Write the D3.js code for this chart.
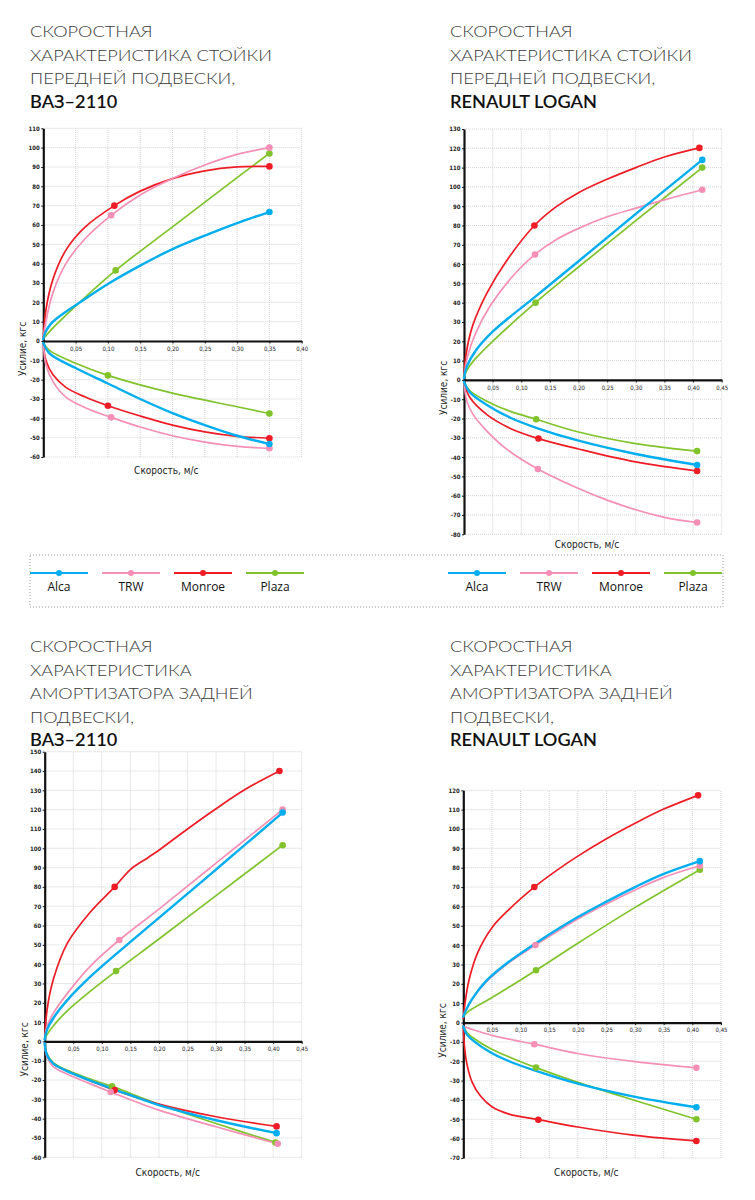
<!DOCTYPE html>
<html><head><meta charset="utf-8">
<script src="https://cdn.jsdelivr.net/npm/d3@7"></script>
<style>body{margin:0;background:#fff}</style>
</head><body>
<svg id="c" width="755" height="1200"></svg>
<script>
// ---------- DATA ----------
const series = ["Alca", "TRW", "Monroe", "Plaza"];
const colors = ["#00aeef", "#f58fb6", "#ee1c25", "#80c32a"];

const xTicks40 = [0.05, 0.10, 0.15, 0.20, 0.25, 0.30, 0.35, 0.40];
const xTicks45 = [0.05, 0.10, 0.15, 0.20, 0.25, 0.30, 0.35, 0.40, 0.45];
const yTicksVazFront = [-60, -50, -40, -30, -20, -10, 0, 10, 20, 30, 40, 50, 60, 70, 80, 90, 100, 110];
const yTicksLoganFront = [-80, -70, -60, -50, -40, -30, -20, -10, 0, 10, 20, 30, 40, 50, 60, 70, 80, 90, 100, 110, 120, 130];
const yTicksVazRear = [-60, -50, -40, -30, -20, -10, 0, 10, 20, 30, 40, 50, 60, 70, 80, 90, 100, 110, 120, 130, 140, 150];
const yTicksLoganRear = [-70, -60, -50, -40, -30, -20, -10, 0, 10, 20, 30, 40, 50, 60, 70, 80, 90, 100, 110, 120];

const titleFront = ["СКОРОСТНАЯ", "ХАРАКТЕРИСТИКА СТОЙКИ", "ПЕРЕДНЕЙ ПОДВЕСКИ,"];
const titleRear = ["СКОРОСТНАЯ", "ХАРАКТЕРИСТИКА", "АМОРТИЗАТОРА ЗАДНЕЙ", "ПОДВЕСКИ,"];
const carVaz = "ВАЗ–2110";
const carLogan = "RENAULT LOGAN";
const xLabel = "Скорость, м/с";
const yLabel = "Усилие, кгс";

// curves: [Alca, TRW, Monroe, Plaza], points [speed m/s, force kgf]
const vazFrontUp = [
  [[0,1],[0.004,5],[0.012,9],[0.026,13],[0.05,18.5],[0.1,29.5],[0.15,39],[0.2,47.5],[0.25,54.5],[0.3,61],[0.35,66.7]],
  [[0,1],[0.004,10],[0.015,25],[0.035,40],[0.065,53],[0.105,65],[0.15,75.5],[0.2,84],[0.25,91],[0.3,96.5],[0.35,100]],
  [[0,1],[0.004,16],[0.015,32],[0.035,47],[0.065,59],[0.11,70],[0.15,77.5],[0.2,84],[0.25,88],[0.3,90],[0.35,90.3]],
  [[0,1],[0.01,5],[0.05,18],[0.112,36.5],[0.2,59],[0.3,84.5],[0.35,97]]
];
const vazFrontLow = [
  [[0,-1],[0.01,-6.5],[0.05,-14],[0.1,-22],[0.15,-30],[0.2,-37.3],[0.25,-43.5],[0.3,-49],[0.35,-53.3]],
  [[0,-1],[0.004,-12],[0.015,-21],[0.035,-29],[0.065,-34.5],[0.105,-39.5],[0.15,-44.5],[0.2,-49],[0.25,-52.3],[0.3,-54.5],[0.35,-55.5]],
  [[0,-1],[0.004,-10],[0.015,-17.5],[0.035,-24],[0.065,-29],[0.1,-33.5],[0.15,-38.8],[0.2,-43.5],[0.25,-47],[0.3,-49.3],[0.35,-50.3]],
  [[0,-1],[0.01,-5],[0.05,-11.5],[0.1,-17.8],[0.2,-27],[0.3,-34],[0.35,-37.5]]
];
const vazFrontUpMarks = [
  [[0.35,66.7]], [[0.105,65],[0.35,100]], [[0.11,70],[0.35,90.3]], [[0.112,36.5],[0.35,97]]
];
const vazFrontLowMarks = [
  [[0.35,-53.3]], [[0.105,-39.5],[0.35,-55.5]], [[0.1,-33.5],[0.35,-50.3]], [[0.1,-17.8],[0.35,-37.5]]
];

const loganFrontUp = [
  [[0,1],[0.005,7],[0.02,15],[0.05,25],[0.124,43],[0.2,61.5],[0.3,86],[0.416,114]],
  [[0,1],[0.006,12],[0.02,24],[0.045,38],[0.08,52],[0.124,65],[0.16,72.5],[0.2,78.5],[0.25,84.5],[0.3,89],[0.35,93.3],[0.416,98.5]],
  [[0,1],[0.004,14],[0.015,28],[0.04,45],[0.075,62],[0.123,80],[0.16,89.5],[0.2,97],[0.25,104],[0.3,110],[0.35,115.5],[0.411,120.2]],
  [[0,1],[0.005,5],[0.02,11],[0.05,20],[0.125,40],[0.2,58.5],[0.3,82.5],[0.416,110]]
];
const loganFrontLow = [
  [[0,-1],[0.01,-6.4],[0.04,-13],[0.08,-19.5],[0.126,-24.8],[0.2,-31.5],[0.3,-38.4],[0.407,-44.1]],
  [[0,-1],[0.005,-11],[0.016,-18],[0.04,-26.5],[0.075,-36],[0.129,-46.2],[0.2,-56.3],[0.25,-62.3],[0.3,-67.3],[0.35,-71.2],[0.407,-73.9]],
  [[0,-1],[0.01,-9],[0.04,-18],[0.08,-25],[0.13,-30.4],[0.2,-35.8],[0.3,-42.5],[0.407,-47.2]],
  [[0,-1],[0.01,-5.5],[0.04,-11],[0.08,-16.2],[0.126,-20.4],[0.2,-27],[0.3,-33],[0.407,-36.9]]
];
const loganFrontUpMarks = [
  [[0.416,114]], [[0.124,65],[0.416,98.5]], [[0.123,80],[0.411,120.2]], [[0.125,40],[0.416,110]]
];
const loganFrontLowMarks = [
  [[0.407,-44.1]], [[0.129,-46.2],[0.407,-73.9]], [[0.13,-30.4],[0.407,-47.2]], [[0.126,-20.4],[0.407,-36.9]]
];

const vazRearUp = [
  [[0,1],[0.004,6],[0.015,12],[0.04,21.5],[0.08,33.5],[0.13,46.5],[0.2,64],[0.3,89],[0.4166,118.5]],
  [[0,1],[0.004,7.6],[0.015,14.5],[0.04,25],[0.08,39],[0.1307,52.5],[0.2,68.5],[0.3,92.3],[0.4166,120]],
  [[0,1],[0.004,16],[0.015,32],[0.04,51],[0.08,67],[0.1225,80],[0.15,89],[0.18,95],[0.2,99],[0.25,110],[0.3,120.5],[0.35,130.3],[0.411,140]],
  [[0,1],[0.004,3.5],[0.015,8],[0.04,16],[0.08,26],[0.125,36.4],[0.2,53],[0.3,75.5],[0.4166,101.6]]
];
const vazRearLow = [
  [[0,-1],[0.004,-7],[0.015,-11.5],[0.04,-15.5],[0.08,-20.3],[0.1225,-24.9],[0.2,-33],[0.3,-40.8],[0.406,-47.5]],
  [[0,-1],[0.004,-8],[0.015,-13],[0.04,-17],[0.08,-22],[0.1155,-26.2],[0.2,-35.6],[0.3,-44.2],[0.408,-53]],
  [[0,-1],[0.004,-7],[0.015,-11.5],[0.04,-15.5],[0.08,-20.5],[0.1225,-25.2],[0.2,-32.5],[0.3,-39],[0.406,-44]],
  [[0,-1],[0.004,-6.5],[0.015,-11],[0.04,-15],[0.08,-19.5],[0.118,-23.3],[0.2,-32.5],[0.3,-42.5],[0.404,-52.3]]
];
const vazRearUpMarks = [
  [[0.4166,118.5]], [[0.1307,52.5],[0.4166,120]], [[0.1225,80],[0.411,140]], [[0.125,36.4],[0.4166,101.6]]
];
const vazRearLowMarks = [
  [[0.406,-47.5]], [[0.1155,-26.2],[0.408,-53]], [[0.1225,-25.2],[0.406,-44]], [[0.118,-23.3],[0.404,-52.3]]
];

const loganRearUp = [
  [[0,3],[0.004,6],[0.015,12],[0.04,21.5],[0.08,31.5],[0.126,40.9],[0.2,54.5],[0.25,62.5],[0.3,70],[0.35,76.8],[0.413,83.4]],
  [[0,3],[0.004,6],[0.015,12],[0.04,21],[0.08,31],[0.126,40],[0.2,53.5],[0.25,61.3],[0.3,68.5],[0.35,75],[0.413,81]],
  [[0,2],[0.003,10],[0.01,22],[0.025,36],[0.05,49],[0.08,58.5],[0.124,70],[0.16,78],[0.2,86],[0.25,95],[0.3,103],[0.35,110.3],[0.41,117.4]],
  [[0,3],[0.01,6],[0.048,12.5],[0.127,27],[0.2,41],[0.3,59.5],[0.413,79]]
];
const loganRearLow = [
  [[0,-2],[0.006,-6],[0.02,-10],[0.048,-15.5],[0.08,-20],[0.127,-25],[0.2,-31.6],[0.3,-38.4],[0.407,-43.8]],
  [[0,-2],[0.02,-4],[0.05,-6.6],[0.09,-9.2],[0.124,-11.2],[0.2,-16],[0.3,-20.2],[0.407,-23.4]],
  [[0,-2],[0.002,-12],[0.006,-21],[0.015,-30.5],[0.03,-38],[0.05,-43.5],[0.08,-47.3],[0.131,-50.2],[0.2,-54],[0.3,-58.3],[0.407,-61.2]],
  [[0,-2],[0.006,-5],[0.02,-8.5],[0.048,-13.5],[0.08,-17.8],[0.127,-23.3],[0.2,-30.9],[0.3,-40.3],[0.407,-50]]
];
const loganRearUpMarks = [
  [[0.413,83.4]], [[0.126,40],[0.413,81]], [[0.124,70],[0.41,117.4]], [[0.127,27],[0.413,79]]
];
const loganRearLowMarks = [
  [[0.407,-43.8]], [[0.124,-11.2],[0.407,-23.4]], [[0.131,-50.2],[0.407,-61.2]], [[0.127,-23.3],[0.407,-50]]
];

// ---------- LAYOUT ----------
const charts = [
  {title: titleFront, car: carVaz, tx: 30, ty: 37, x0: 43.3, x1: 301.7, yTop: 128.3, yBot: 457, xLabY: 473.5,
   xTicks: xTicks40, yTicks: yTicksVazFront, up: vazFrontUp, low: vazFrontLow, upM: vazFrontUpMarks, lowM: vazFrontLowMarks},
  {title: titleFront, car: carLogan, tx: 450, ty: 37, x0: 464, x1: 721.7, yTop: 129, yBot: 534.3, xLabY: 547.5,
   xTicks: xTicks45, yTicks: yTicksLoganFront, up: loganFrontUp, low: loganFrontLow, upM: loganFrontUpMarks, lowM: loganFrontLowMarks},
  {title: titleRear, car: carVaz, tx: 30, ty: 652, x0: 44.7, x1: 301.7, yTop: 751.7, yBot: 1157.3, xLabY: 1175.5,
   xTicks: xTicks45, yTicks: yTicksVazRear, up: vazRearUp, low: vazRearLow, upM: vazRearUpMarks, lowM: vazRearLowMarks},
  {title: titleRear, car: carLogan, tx: 450, ty: 652, x0: 463.3, x1: 721, yTop: 790.3, yBot: 1158, xLabY: 1175.5,
   xTicks: xTicks45, yTicks: yTicksLoganRear, up: loganRearUp, low: loganRearLow, upM: loganRearUpMarks, lowM: loganRearLowMarks}
];

const svg = d3.select("#c");
const narrow = "'Liberation Sans Narrow','DejaVu Sans Condensed',sans-serif";
const titleFont = "Lato, 'Open Sans', sans-serif";
const drawOrder = [3, 2, 1, 0];
const fmtX = d => d3.format(".2f")(d).replace(".", ",");

// horizontal stretch so the title lines match the reference widths
function fitStretch(text, weight, size, target) {
  const t = svg.append("text").attr("font-family", titleFont).attr("font-size", size)
    .attr("font-weight", weight).text(text);
  const w = t.node().getComputedTextLength();
  t.remove();
  return target / w;
}
const lightSX = fitStretch("ХАРАКТЕРИСТИКА СТОЙКИ", 300, 16.5, 242);
const boldSX = fitStretch("RENAULT LOGAN", 600, 16.5, 147);

charts.forEach(cfg => {
  const g = svg.append("g");
  const lines = cfg.title.concat([cfg.car]);
  lines.forEach((t, i) => {
    const last = i === lines.length - 1;
    g.append("text")
      .attr("transform", `translate(${cfg.tx},${cfg.ty + i * 23.5}) scale(${last ? boldSX : lightSX},1)`)
      .attr("font-family", titleFont).attr("font-size", 16.5)
      .attr("font-weight", last ? 600 : 300)
      .attr("fill", last ? "#111" : "#3a3a3a").text(t);
  });

  const xMax = cfg.xTicks[cfg.xTicks.length - 1];
  const x = d3.scaleLinear().domain([0, xMax]).range([cfg.x0, cfg.x1]);
  const y = d3.scaleLinear().domain([cfg.yTicks[0], cfg.yTicks[cfg.yTicks.length - 1]]).range([cfg.yBot, cfg.yTop]);

  const grid = g.append("g").attr("stroke", "#c8c8c8").attr("stroke-width", 0.8).attr("stroke-dasharray", "1,1");
  grid.selectAll(".gx").data(cfg.xTicks).join("line")
    .attr("x1", d => x(d)).attr("x2", d => x(d)).attr("y1", y.range()[0]).attr("y2", y.range()[1]);
  grid.selectAll(".gy").data(cfg.yTicks).join("line")
    .attr("x1", x(0)).attr("x2", x(xMax)).attr("y1", d => y(d)).attr("y2", d => y(d));

  const ya = g.append("g").attr("transform", `translate(${x(0)},0)`)
    .call(d3.axisLeft(y).tickValues(cfg.yTicks).tickSize(2).tickSizeOuter(0).tickPadding(1.5).tickFormat(d => String(d)));
  ya.select(".domain").attr("stroke", "#111").attr("stroke-width", 2.2);
  ya.selectAll(".tick line").attr("stroke", "#111");
  ya.selectAll(".tick text").attr("font-family", narrow).attr("font-size", 6).attr("font-weight", "bold").attr("fill", "#222");

  const xa = g.append("g").attr("transform", `translate(0,${y(0)})`)
    .call(d3.axisBottom(x).tickValues(cfg.xTicks).tickSize(2.5).tickSizeOuter(0).tickPadding(3).tickFormat(fmtX));
  xa.select(".domain").attr("stroke", "#111").attr("stroke-width", 2.2);
  xa.selectAll(".tick line").attr("stroke", "#111");
  xa.selectAll(".tick text").attr("font-family", narrow).attr("font-size", 6).attr("fill", "#222");

  g.append("text").attr("x", cfg.x0 + 123).attr("y", cfg.xLabY).attr("text-anchor", "middle")
    .attr("font-family", narrow).attr("font-size", 10).attr("fill", "#222").text(xLabel);
  g.append("text").attr("transform", `translate(${cfg.x0 - 17},${y(0) + 8}) rotate(-90)`).attr("text-anchor", "middle")
    .attr("font-family", narrow).attr("font-size", 10).attr("fill", "#222").text(yLabel);

  const line = d3.line().x(d => x(d[0])).y(d => y(d[1])).curve(d3.curveCatmullRom.alpha(0.5));
  const curves = g.append("g").attr("fill", "none").attr("stroke-linecap", "round").attr("stroke-linejoin", "round");
  drawOrder.forEach(i => {
    [cfg.up[i], cfg.low[i]].forEach(pts => {
      curves.append("path").attr("d", line(pts)).attr("stroke", colors[i]).attr("stroke-width", i === 0 ? 2.4 : 1.7);
    });
  });
  const marks = g.append("g");
  drawOrder.forEach(i => {
    marks.selectAll(null).data(cfg.upM[i].concat(cfg.lowM[i])).join("circle")
      .attr("cx", d => x(d[0])).attr("cy", d => y(d[1])).attr("r", 3.3).attr("fill", colors[i]);
  });
});

// ---------- LEGEND ----------
const leg = svg.append("g");
leg.append("rect").attr("x", 30).attr("y", 555).attr("width", 693).attr("height", 52)
  .attr("fill", "none").attr("stroke", "#999").attr("stroke-width", 1).attr("stroke-dasharray", "1,2");
const legendStarts = [30, 448];
legendStarts.forEach(sx => {
  series.forEach((s, i) => {
    const lx = sx + i * 72;
    leg.append("line").attr("x1", lx).attr("x2", lx + 58).attr("y1", 573).attr("y2", 573)
      .attr("stroke", colors[i]).attr("stroke-width", 1.8);
    leg.append("circle").attr("cx", lx + 29).attr("cy", 573).attr("r", 3).attr("fill", colors[i]);
    leg.append("text").attr("x", lx + 29).attr("y", 591).attr("text-anchor", "middle")
      .attr("font-family", "'Open Sans', 'Noto Sans', sans-serif").attr("font-size", 12).attr("fill", "#111").text(s);
  });
});
</script>
</body></html>
